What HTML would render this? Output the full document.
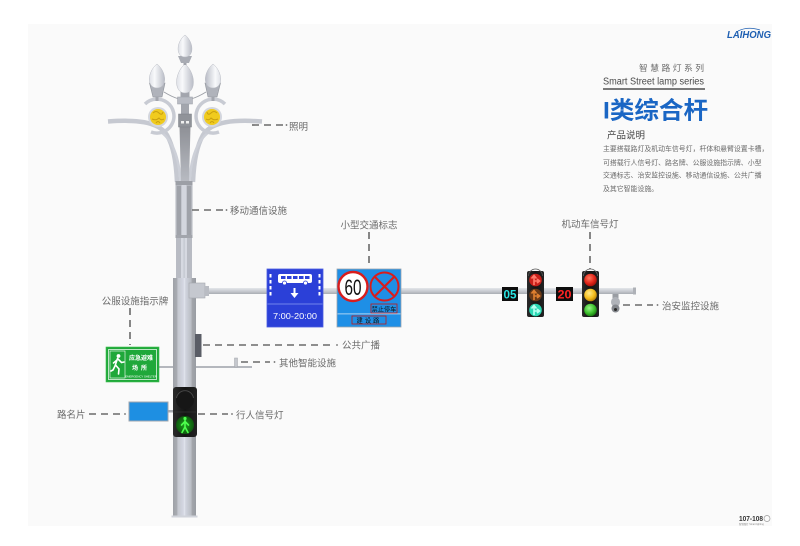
<!DOCTYPE html>
<html><head><meta charset="utf-8">
<style>
html,body{margin:0;padding:0;background:#fff;}
svg{display:block;}
text{font-family:"Liberation Sans","Noto Sans CJK SC",sans-serif;}
</style></head>
<body>
<svg width="800" height="546" viewBox="0 0 800 546" xmlns="http://www.w3.org/2000/svg">
<defs>
  <linearGradient id="bulb" x1="0" y1="0" x2="1" y2="0">
    <stop offset="0" stop-color="#dfe1e7"/>
    <stop offset="0.35" stop-color="#f8f9fb"/>
    <stop offset="1" stop-color="#b9bcc6"/>
  </linearGradient>
  <linearGradient id="pole" x1="0" y1="0" x2="1" y2="0">
    <stop offset="0" stop-color="#9ea1a7"/>
    <stop offset="0.18" stop-color="#a9acb2"/>
    <stop offset="0.2" stop-color="#c3c6ce"/>
    <stop offset="0.45" stop-color="#d4d7e2"/>
    <stop offset="0.5" stop-color="#e2e5ee"/>
    <stop offset="0.55" stop-color="#d0d3de"/>
    <stop offset="0.8" stop-color="#b9bcc3"/>
    <stop offset="0.82" stop-color="#a3a6ac"/>
    <stop offset="1" stop-color="#999ca2"/>
  </linearGradient>
  <linearGradient id="arm" x1="0" y1="0" x2="0" y2="1">
    <stop offset="0" stop-color="#e4e6ea"/>
    <stop offset="0.5" stop-color="#c9ccd2"/>
    <stop offset="1" stop-color="#a9acb2"/>
  </linearGradient>
  <linearGradient id="col" x1="0" y1="0" x2="0" y2="1">
    <stop offset="0" stop-color="#8e9096"/>
    <stop offset="1" stop-color="#b8bbc2"/>
  </linearGradient>
  <linearGradient id="house" x1="0" y1="0" x2="1" y2="0">
    <stop offset="0" stop-color="#2a2a2a"/>
    <stop offset="0.5" stop-color="#141414"/>
    <stop offset="1" stop-color="#222"/>
  </linearGradient>
  <radialGradient id="gped" cx="0.5" cy="0.5" r="0.6">
    <stop offset="0" stop-color="#1fa01f"/>
    <stop offset="1" stop-color="#0a4a0a"/>
  </radialGradient>
  <radialGradient id="lred" cx="0.4" cy="0.35" r="0.7">
    <stop offset="0" stop-color="#ff7a60"/>
    <stop offset="0.6" stop-color="#e3261a"/>
    <stop offset="1" stop-color="#9a1008"/>
  </radialGradient>
  <radialGradient id="lyel" cx="0.4" cy="0.35" r="0.7">
    <stop offset="0" stop-color="#ffe98a"/>
    <stop offset="0.6" stop-color="#f5bd1c"/>
    <stop offset="1" stop-color="#b07a08"/>
  </radialGradient>
  <radialGradient id="lgrn" cx="0.4" cy="0.35" r="0.7">
    <stop offset="0" stop-color="#9af58a"/>
    <stop offset="0.6" stop-color="#3cbf2c"/>
    <stop offset="1" stop-color="#16700e"/>
  </radialGradient>
</defs>

<!-- page -->
<rect x="0" y="0" width="800" height="546" fill="#ffffff"/>
<rect x="28" y="24" width="744" height="502" fill="#fafafa"/>

<!-- ===== LAMP HEAD ===== -->
<g id="half">
  <path d="M108 121.5 C135 119.5 158 121 167 135 C173 146 176 160 177 182" fill="none" stroke="#c6c9d1" stroke-width="4.5"/>
  <path d="M161 132 C172 140 179 156 180.5 182" fill="none" stroke="#cdd0d8" stroke-width="2.6"/>
  <path d="M145 104 A17 17 0 1 1 151 132" fill="none" stroke="#c8cbd3" stroke-width="3.5"/>
  <circle cx="158" cy="117" r="10" fill="#d3d6de"/>
  <circle cx="158" cy="117" r="8" fill="#f0cb1e"/>
  <path d="M153 113 q3 -3 6 0 q3 3 4 -1 M152 119 q4 2 7 -1 q2 3 5 1 M156 123 q2 -3 4 0" fill="none" stroke="#c9a010" stroke-width="1"/>
  <path d="M149.5 83 L165 83 L162 97 L153 97 Z" fill="#b0b3bb" stroke="#8f939b" stroke-width="0.6"/>
  <rect x="155.5" y="97" width="3" height="4" fill="#a3a6ae"/>
  <path d="M164 92 Q172 97 179 99" fill="none" stroke="#9a9da4" stroke-width="0.9"/>
  <path d="M157 64 C167 72 167.5 88 157 88 C146.5 88 147 72 157 64 Z" fill="url(#bulb)" stroke="#b9bcc4" stroke-width="0.5"/>
</g>
<use href="#half" transform="translate(370,0) scale(-1,1)"/>

<!-- center column -->
<path d="M179.5 126 L190.5 126 L189 182 L181 182 Z" fill="url(#col)"/>
<rect x="181" y="104" width="8" height="11" fill="#a3a6ad"/>
<rect x="178.5" y="114" width="13" height="13" fill="#909399" stroke="#7d8087" stroke-width="0.5"/>
<rect x="181" y="121" width="3" height="2.5" fill="#f0f0f0"/>
<rect x="186" y="121" width="3" height="2.5" fill="#f0f0f0"/>
<rect x="177.5" y="97" width="15" height="7" fill="#b8bbc3" stroke="#9a9da5" stroke-width="0.5"/>
<rect x="180.5" y="91" width="9" height="6" fill="#a2a5ad"/>
<path d="M185 64 C196 73 196.5 93 185 93 C173.5 93 174 73 185 64 Z" fill="url(#bulb)" stroke="#b9bcc4" stroke-width="0.5"/>
<path d="M178 56 L192 56 L189 63 L181 63 Z" fill="#a9acb4"/>
<rect x="183.5" y="63" width="3" height="2" fill="#a0a3ab"/>
<path d="M185 35 C194 42 194.5 57 185 57 C175.5 57 176 42 185 35 Z" fill="url(#bulb)" stroke="#b9bcc4" stroke-width="0.5"/>

<!-- twin tubes -->
<rect x="176" y="182" width="16" height="96" fill="#d6d9e1"/>
<rect x="176" y="182" width="5" height="96" fill="#b8bbc3"/>
<rect x="187" y="182" width="5" height="96" fill="#b8bbc3"/>
<rect x="183.5" y="182" width="1.2" height="96" fill="#c3c6ce"/>
<rect x="175.5" y="181" width="17" height="57" fill="#b3b6bd"/>
<rect x="175.5" y="181" width="17" height="4" fill="#9c9fa6"/>
<rect x="177" y="186" width="4" height="50" fill="#9fa2a9"/>
<rect x="187" y="186" width="4" height="50" fill="#9fa2a9"/>
<rect x="181.5" y="185" width="5" height="53" fill="#d3d6de"/>
<rect x="175.5" y="235" width="17" height="3" fill="#a2a5ac"/>

<!-- lower pole -->
<rect x="173" y="278" width="23" height="239" fill="url(#pole)"/>
<rect x="171.5" y="515.5" width="26" height="2" fill="#d0d3da"/>

<!-- crossarm -->
<rect x="196" y="288" width="439" height="6" fill="url(#arm)"/>
<rect x="633" y="287.5" width="3" height="7" fill="#aeb1b7"/>
<rect x="189" y="283" width="16" height="15" fill="#c5c8cf" stroke="#a4a7ad" stroke-width="0.6"/>
<rect x="205" y="286" width="4" height="10" fill="#b9bcc3"/>

<!-- bus lane sign -->
<rect x="267" y="269" width="56" height="58" fill="#2b40d8" stroke="#4a5ce0" stroke-width="0.8"/>
<g fill="#ffffff">
  <rect x="269.5" y="274" width="2" height="3.5"/><rect x="269.5" y="280" width="2" height="3.5"/><rect x="269.5" y="286" width="2" height="3.5"/><rect x="269.5" y="292" width="2" height="3.5"/>
  <rect x="318.5" y="274" width="2" height="3.5"/><rect x="318.5" y="280" width="2" height="3.5"/><rect x="318.5" y="286" width="2" height="3.5"/><rect x="318.5" y="292" width="2" height="3.5"/>
  <rect x="278" y="274" width="34" height="9" rx="2"/>
  <rect x="293.5" y="288" width="2" height="6"/>
  <path d="M290.5 293 L298.5 293 L294.5 298 Z"/>
</g>
<g fill="#2b40d8">
  <rect x="281" y="276" width="4.5" height="3"/><rect x="287" y="276" width="4.5" height="3"/><rect x="293" y="276" width="4.5" height="3"/><rect x="299" y="276" width="4.5" height="3"/><rect x="305" y="276" width="4.5" height="3"/>
</g>
<circle cx="284.5" cy="283" r="2" fill="#fff" stroke="#2b40d8" stroke-width="0.8"/>
<circle cx="305.5" cy="283" r="2" fill="#fff" stroke="#2b40d8" stroke-width="0.8"/>
<rect x="267.5" y="303.5" width="55" height="1" fill="#7283ec"/>
<text x="295" y="319" font-size="8.5" fill="#ffffff" text-anchor="middle" textLength="44" lengthAdjust="spacingAndGlyphs">7:00-20:00</text>

<!-- traffic sign -->
<rect x="337" y="269" width="64" height="58" fill="#1e8fe6" stroke="#9aa3ad" stroke-width="0.8"/>
<circle cx="353" cy="286.5" r="14.5" fill="#ffffff" stroke="#d81d1d" stroke-width="2.4"/>
<text x="353" y="295" font-size="22" fill="#111" text-anchor="middle" textLength="17" lengthAdjust="spacingAndGlyphs">60</text>
<circle cx="384.5" cy="286.5" r="14" fill="#1e8fe6" stroke="#d81d1d" stroke-width="2"/>
<path d="M374.5 276.5 L394.5 296.5 M394.5 276.5 L374.5 296.5" stroke="#d81d1d" stroke-width="2.2"/>
<rect x="371" y="304" width="26" height="9" fill="none" stroke="#c01818" stroke-width="0.8"/>
<text x="384" y="311.3" font-size="6.2" fill="#111" text-anchor="middle">禁止停车</text>
<rect x="337.5" y="313.5" width="63" height="0.8" fill="#cfe4f7"/>
<rect x="352" y="316" width="34" height="8" fill="none" stroke="#c01818" stroke-width="0.8"/>
<text x="369" y="322.6" font-size="6.3" fill="#111" text-anchor="middle" letter-spacing="2">建设路</text>

<!-- countdown 05 -->
<rect x="502" y="287" width="16" height="14" fill="#0d0d0d"/>
<text x="510" y="298.5" font-size="12" font-weight="bold" fill="#29e3e3" text-anchor="middle" font-family="Liberation Mono, monospace" textLength="13" lengthAdjust="spacingAndGlyphs">05</text>
<!-- arrow signal -->
<rect x="527" y="271" width="17" height="46" rx="2" fill="url(#house)"/>
<path d="M528.5 276 A7 7 0 0 1 542.5 276" fill="none" stroke="#555" stroke-width="0.8"/>
<circle cx="535.5" cy="280" r="6.3" fill="#c8201a"/>
<circle cx="535.5" cy="295" r="6.3" fill="#6a3a18"/>
<circle cx="535.5" cy="310" r="6.3" fill="#2ad8b4"/>
<g fill="none" stroke-width="1.6">
  <path d="M534 285 L534 276 M531.5 278.5 L534 275.5 L536.5 278.5 M534 281 L539 281 M537 279 L539.5 281 L537 283" stroke="#ff7a6a"/>
  <path d="M534 300 L534 291 M531.5 293.5 L534 290.5 L536.5 293.5 M534 296 L539 296 M537 294 L539.5 296 L537 298" stroke="#e08030"/>
  <path d="M534 315 L534 306 M531.5 308.5 L534 305.5 L536.5 308.5 M534 311 L539 311 M537 309 L539.5 311 L537 313" stroke="#b8fff0"/>
</g>
<!-- countdown 20 -->
<rect x="556" y="287" width="17" height="14" fill="#0d0d0d"/>
<text x="564.5" y="298.5" font-size="12" font-weight="bold" fill="#ff2424" text-anchor="middle" font-family="Liberation Mono, monospace" textLength="14" lengthAdjust="spacingAndGlyphs">20</text>
<!-- main signal -->
<rect x="582" y="271" width="17" height="46" rx="2" fill="url(#house)"/>
<path d="M583.5 276 A7 7 0 0 1 597.5 276" fill="none" stroke="#666" stroke-width="0.8"/>
<circle cx="590.5" cy="280" r="6.3" fill="url(#lred)"/>
<circle cx="590.5" cy="295" r="6.3" fill="url(#lyel)"/>
<circle cx="590.5" cy="310" r="6.3" fill="url(#lgrn)"/>

<!-- camera -->
<rect x="612.5" y="294" width="6" height="4" fill="#9a9da3"/>
<ellipse cx="615.5" cy="302" rx="4.5" ry="5" fill="#b0b3b9"/>
<circle cx="615.5" cy="308.5" r="4" fill="#85888e"/>
<circle cx="615.5" cy="309.5" r="1.5" fill="#2a2a2a"/>

<!-- speaker -->
<rect x="195" y="334" width="6.5" height="23" fill="#5a5d66"/>

<!-- smart device bar -->
<rect x="196" y="366" width="56" height="2" fill="#b4b7bd"/>
<rect x="234.5" y="358" width="3" height="9" fill="#c4c7cd" stroke="#a0a3a9" stroke-width="0.5"/>
<rect x="159" y="366" width="14" height="2" fill="#b4b7bd"/>

<!-- green sign -->
<rect x="106" y="347" width="53" height="35" fill="#1fa83a" stroke="#3fc050" stroke-width="0.6"/>
<rect x="108.5" y="349.5" width="48" height="30" fill="none" stroke="#ffffff" stroke-width="0.7"/>
<rect x="110" y="351" width="15" height="27" fill="none" stroke="#ffffff" stroke-width="0.6"/>
<circle cx="118.5" cy="356" r="1.9" fill="#fff"/>
<path d="M117.5 358.5 L115 366 M117.5 358.5 L121.5 362.5 L124 362 M117 360 L113.5 363 M115.5 365 L119 369 L118.5 374 M115.5 365 L113 370 L111 371" fill="none" stroke="#fff" stroke-width="1.6" stroke-linecap="round"/>
<text x="141" y="360" font-size="6" font-weight="bold" fill="#ffffff" text-anchor="middle">应急避难</text>
<text x="141" y="370" font-size="6" font-weight="bold" fill="#ffffff" text-anchor="middle" letter-spacing="3">场所</text>
<text x="141" y="377.5" font-size="2.8" fill="#ffffff" text-anchor="middle">EMERGENCY SHELTER</text>

<!-- road name sign -->
<rect x="168" y="410" width="5" height="2.5" fill="#a9acb2"/>
<rect x="129" y="402" width="39" height="19" fill="#1e8fe2" stroke="#a0a5ad" stroke-width="1"/>

<!-- pedestrian light -->
<rect x="173" y="387" width="24" height="50" rx="3" fill="url(#house)"/>
<line x1="174" y1="412" x2="196" y2="412" stroke="#333" stroke-width="0.8"/>
<circle cx="185" cy="400" r="9" fill="#161616"/>
<path d="M176.5 398 A8.6 8.6 0 0 1 193.5 398" fill="none" stroke="#4a4a4a" stroke-width="0.9"/>
<circle cx="185" cy="425" r="9" fill="url(#gped)"/>
<circle cx="185" cy="418.5" r="1.6" fill="#4dff4d"/>
<path d="M185 420.5 L185 427 M185 421.5 L181.5 425 M185 421.5 L188.5 425 M185 427 L182 432.5 M185 427 L188 432.5" fill="none" stroke="#4dff4d" stroke-width="1.6" stroke-linecap="round"/>

<!-- ===== leader lines ===== -->
<g stroke="#6a6a6a" stroke-width="1.6" fill="none" stroke-dasharray="7 5">
  <line x1="252" y1="125" x2="283" y2="125"/>
  <line x1="192" y1="210" x2="223" y2="210"/>
  <line x1="369" y1="232" x2="369" y2="268"/>
  <line x1="590" y1="232" x2="590" y2="269"/>
  <line x1="623" y1="305" x2="653" y2="305"/>
  <line x1="130" y1="308" x2="130" y2="345"/>
  <line x1="203" y1="345" x2="333" y2="345"/>
  <line x1="241" y1="362" x2="270" y2="362"/>
  <line x1="89" y1="414" x2="121" y2="414"/>
  <line x1="198" y1="414" x2="228" y2="414"/>
</g>
<g fill="#6a6a6a">
  <circle cx="286.5" cy="125" r="0.9"/>
  <circle cx="226.5" cy="210" r="0.9"/>
  <circle cx="657.5" cy="305" r="0.9"/>
  <circle cx="337" cy="345" r="0.9"/>
  <circle cx="274.5" cy="362" r="0.9"/>
  <circle cx="125" cy="414" r="0.9"/>
  <circle cx="232" cy="414" r="0.9"/>
</g>

<!-- labels -->
<g font-size="9.5" fill="#6b6b6b">
  <text x="289" y="130">照明</text>
  <text x="230" y="214">移动通信设施</text>
  <text x="369" y="228.5" text-anchor="middle">小型交通标志</text>
  <text x="590" y="227.5" text-anchor="middle">机动车信号灯</text>
  <text x="662" y="309.5">治安监控设施</text>
  <text x="135" y="304.5" text-anchor="middle">公服设施指示牌</text>
  <text x="342" y="348.5">公共广播</text>
  <text x="279" y="366.5">其他智能设施</text>
  <text x="57" y="418">路名片</text>
  <text x="236" y="418.5">行人信号灯</text>
</g>

<!-- ===== header ===== -->
<text x="727" y="38" font-size="10" font-weight="bold" font-style="italic" fill="#1e5fb2" textLength="44" lengthAdjust="spacingAndGlyphs">LAIHONG</text>
<path d="M738 31 Q748 26 760 30" fill="none" stroke="#1e5fb2" stroke-width="0.8"/>
<text x="639" y="71" font-size="8.8" fill="#6e6e6e" textLength="65" lengthAdjust="spacing">智慧路灯系列</text>
<text x="603" y="84.5" font-size="10" fill="#4a4a4a" textLength="101" lengthAdjust="spacingAndGlyphs">Smart Street lamp series</text>
<rect x="603" y="88" width="102" height="2" fill="#7a7a7a"/>
<text x="603" y="118.5" font-size="24" font-weight="bold" fill="#1a66c4" textLength="105" lengthAdjust="spacingAndGlyphs">I类综合杆</text>
<text x="607" y="138.5" font-size="9.5" fill="#444">产品说明</text>
<g font-size="6.9" fill="#6a6a6a">
  <text x="603" y="151">主要搭载路灯及机动车信号灯，杆体和悬臂设置卡槽，</text>
  <text x="603" y="165">可搭载行人信号灯、路名牌、公服设施指示牌、小型</text>
  <text x="603" y="177.5">交通标志、治安监控设施、移动通信设施、公共广播</text>
  <text x="603" y="191">及其它智能设施。</text>
</g>

<!-- page number -->
<text x="739" y="521" font-size="7" font-weight="bold" fill="#333" textLength="24" lengthAdjust="spacingAndGlyphs">107-108</text>
<circle cx="767" cy="518.5" r="3" fill="none" stroke="#999" stroke-width="0.7"/>
<text x="739" y="525" font-size="2.4" fill="#888">智慧路灯 Smart lighting</text>
</svg>
</body></html>
